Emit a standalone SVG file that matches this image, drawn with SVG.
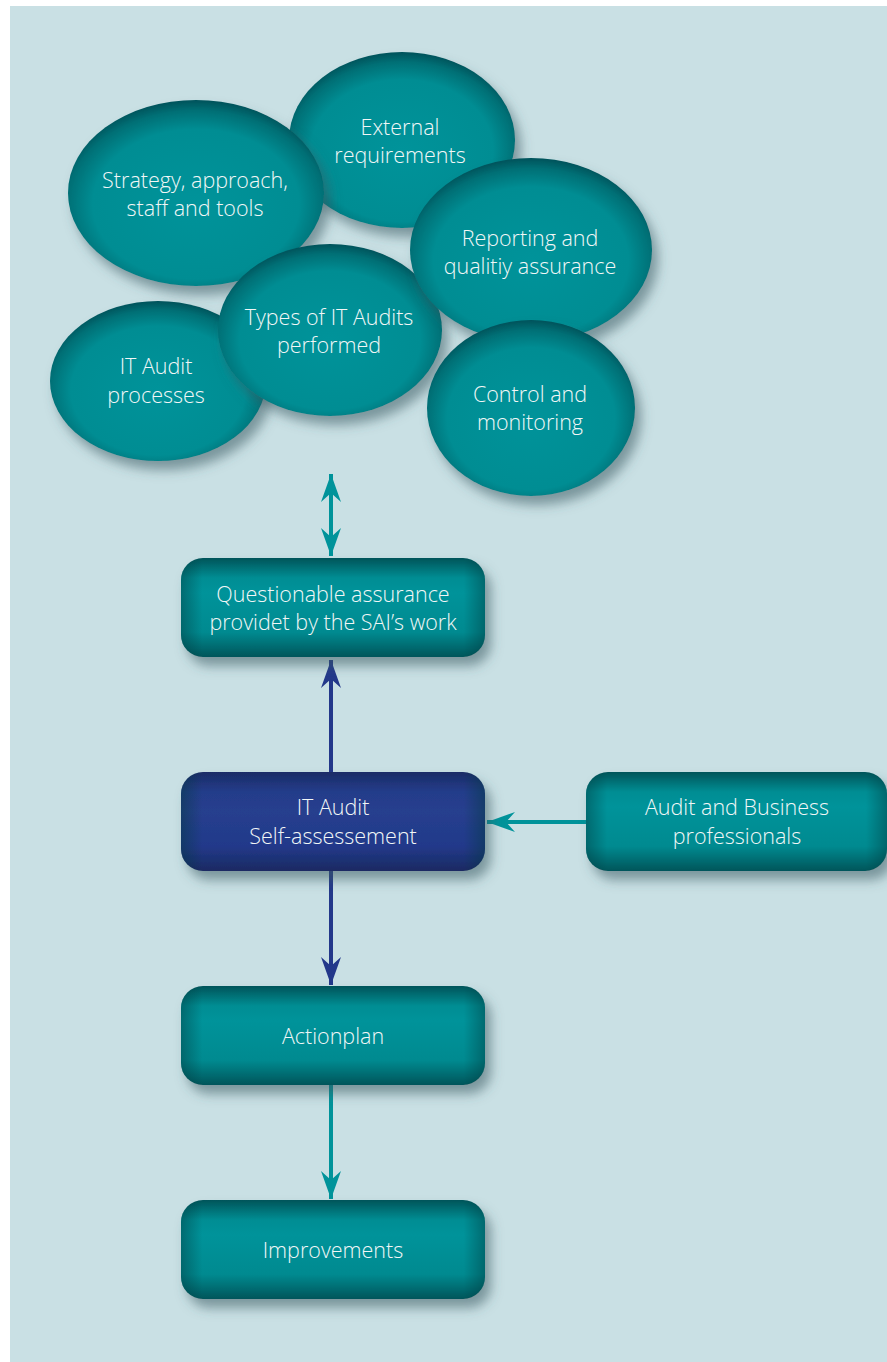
<svg xmlns="http://www.w3.org/2000/svg" width="887" height="1362" viewBox="0 0 887 1362">
<defs>
<radialGradient id="eg" cx="0.5" cy="0.56" r="0.56">
<stop offset="0" stop-color="#00939a"/>
<stop offset="0.72" stop-color="#008d93"/>
<stop offset="0.9" stop-color="#006f75"/>
<stop offset="1" stop-color="#00525a"/>
</radialGradient>
<linearGradient id="rg" x1="0" y1="0" x2="0" y2="1">
<stop offset="0" stop-color="#005459"/>
<stop offset="0.2" stop-color="#008d93"/>
<stop offset="0.35" stop-color="#00939a"/>
<stop offset="0.75" stop-color="#008a90"/>
<stop offset="1" stop-color="#00555a"/>
</linearGradient>
<linearGradient id="bg2" x1="0" y1="0" x2="0" y2="1">
<stop offset="0" stop-color="#1a2c66"/>
<stop offset="0.2" stop-color="#243c8a"/>
<stop offset="0.4" stop-color="#263f8e"/>
<stop offset="0.75" stop-color="#22398a"/>
<stop offset="1" stop-color="#1a2a62"/>
</linearGradient>
<linearGradient id="edge" x1="0" y1="0" x2="1" y2="0">
<stop offset="0" stop-color="#003a3e" stop-opacity="0.45"/>
<stop offset="0.07" stop-color="#003a3e" stop-opacity="0"/>
<stop offset="0.93" stop-color="#003a3e" stop-opacity="0"/>
<stop offset="1" stop-color="#003a3e" stop-opacity="0.45"/>
</linearGradient>
<filter id="sh" x="-20%" y="-20%" width="140%" height="150%">
<feGaussianBlur in="SourceAlpha" stdDeviation="6"/>
<feOffset dx="6" dy="9" result="b"/>
<feFlood flood-color="#3a5a62" flood-opacity="0.55"/>
<feComposite in2="b" operator="in"/>
<feMerge><feMergeNode/><feMergeNode in="SourceGraphic"/></feMerge>
</filter>
<marker id="ta" viewBox="0 0 28 20" markerWidth="28" markerHeight="20" refX="28" refY="10" orient="auto-start-reverse" markerUnits="userSpaceOnUse">
<path d="M0,0 L28,10 L0,20 L9,10 Z" fill="#00939a"/>
</marker>
<marker id="ba" viewBox="0 0 28 20" markerWidth="28" markerHeight="20" refX="28" refY="10" orient="auto-start-reverse" markerUnits="userSpaceOnUse">
<path d="M0,0 L28,10 L0,20 L9,10 Z" fill="#23388a"/>
</marker>
</defs>
<style>
text{font-family:"Open Sans","Noto Sans","Liberation Sans",sans-serif;font-size:21.5px;font-weight:300;fill:#f2f7f7;text-anchor:middle}
.e{fill:url(#eg);filter:url(#sh)}
.r{fill:url(#rg);filter:url(#sh)}
.b{fill:url(#bg2);filter:url(#sh)}
.ed{fill:url(#edge)}
.tc{stroke:#00939a;stroke-width:4;fill:none}
.bc{stroke:#23388a;stroke-width:4;fill:none}
</style>
<rect x="0" y="0" width="887" height="1362" fill="#ffffff"/>
<rect x="10" y="6" width="877" height="1356" fill="#c9e0e4"/>

<g id="external">
<ellipse class="e" cx="402" cy="140" rx="113" ry="88"/>
<text x="400" y="135">External</text>
<text x="400" y="163">requirements</text>
</g>
<g id="strategy">
<ellipse class="e" cx="196" cy="193" rx="128" ry="93"/>
<text x="195" y="188">Strategy, approach,</text>
<text x="195" y="216">staff and tools</text>
</g>
<g id="processes">
<ellipse class="e" cx="158" cy="381" rx="108" ry="80"/>
<text x="156" y="374">IT Audit</text>
<text x="156" y="403">processes</text>
</g>
<g id="types">
<ellipse class="e" cx="330" cy="330" rx="112" ry="86"/>
<text x="329" y="325">Types of IT Audits</text>
<text x="329" y="353">performed</text>
</g>
<g id="reporting">
<ellipse class="e" cx="531" cy="250" rx="121" ry="92"/>
<text x="530" y="246">Reporting and</text>
<text x="530" y="274">qualitiy assurance</text>
</g>
<g id="control">
<ellipse class="e" cx="531" cy="408" rx="104" ry="88"/>
<text x="530" y="402">Control and</text>
<text x="530" y="430">monitoring</text>
</g>

<g id="connectors">
<line class="tc" x1="331" y1="474" x2="331" y2="556" marker-start="url(#ta)" marker-end="url(#ta)"/>
<line class="bc" x1="331" y1="772" x2="331" y2="660" marker-end="url(#ba)"/>
<line class="bc" x1="331" y1="871" x2="331" y2="985" marker-end="url(#ba)"/>
<line class="tc" x1="586" y1="822" x2="487" y2="822" marker-end="url(#ta)"/>
<line class="tc" x1="331" y1="1085" x2="331" y2="1199" marker-end="url(#ta)"/>
</g>

<g id="questionable">
<rect class="r" x="181" y="558" width="304" height="99" rx="22"/>
<rect class="ed" x="181" y="558" width="304" height="99" rx="22"/>
<text x="333" y="602">Questionable assurance</text>
<text x="333" y="630">providet by the SAI’s work</text>
</g>
<g id="selfassessment">
<rect class="b" x="181" y="772" width="304" height="99" rx="22"/>
<rect class="ed" x="181" y="772" width="304" height="99" rx="22"/>
<text x="333" y="815">IT Audit</text>
<text x="333" y="844">Self-assessement</text>
</g>
<g id="professionals">
<rect class="r" x="586" y="772" width="301" height="99" rx="22"/>
<rect class="ed" x="586" y="772" width="301" height="99" rx="22"/>
<text x="737" y="815">Audit and Business</text>
<text x="737" y="844">professionals</text>
</g>
<g id="actionplan">
<rect class="r" x="181" y="986" width="304" height="99" rx="22"/>
<rect class="ed" x="181" y="986" width="304" height="99" rx="22"/>
<text x="333" y="1044">Actionplan</text>
</g>
<g id="improvements">
<rect class="r" x="181" y="1200" width="304" height="99" rx="22"/>
<rect class="ed" x="181" y="1200" width="304" height="99" rx="22"/>
<text x="333" y="1258">Improvements</text>
</g>
</svg>
